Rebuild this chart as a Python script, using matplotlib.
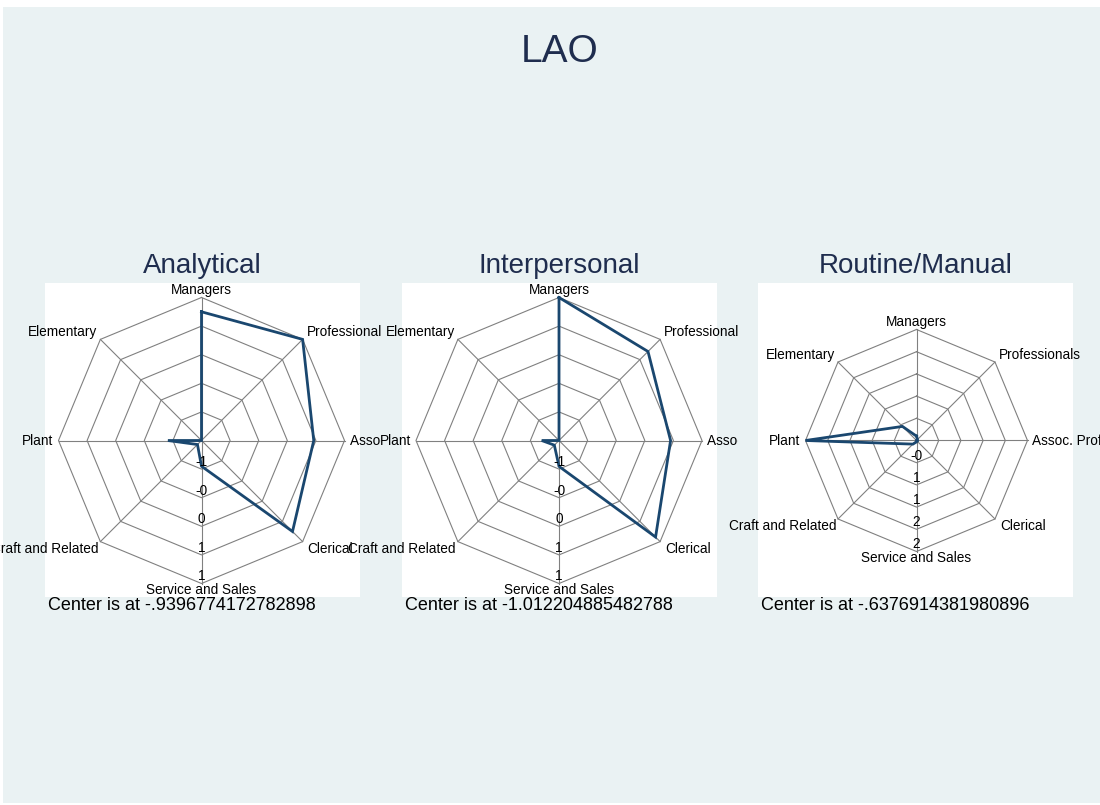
import numpy as np
import matplotlib
matplotlib.use("Agg")
import matplotlib.pyplot as plt
from matplotlib.transforms import offset_copy, Bbox, TransformedBbox
from matplotlib.patches import Rectangle

plt.rcParams['font.family'] = ['Liberation Sans', 'DejaVu Sans']

# ---------------- data ----------------
main_title = "LAO"
categories = ["Managers", "Professionals", "Assoc. Professionals", "Clerical",
              "Service and Sales", "Craft and Related", "Plant", "Elementary"]
panel_titles = ["Analytical", "Interpersonal", "Routine/Manual"]

analytical = [0.86, 1.06, 0.63, 0.86, -0.58, -0.86, -0.47, -0.9396774172782898]
interpersonal = [0.99, 0.75, 0.55, 0.90, -0.65, -0.92, -0.77, -1.012204885482788]
routine_manual = [-0.52, -0.60, -0.61, -0.6376914381980896, -0.60, -0.50, 2.36, -0.10]

ring_labels_analytical = ["-1", "-0", "0", "1", "1"]
ring_labels_interpersonal = ["-1", "-0", "0", "1", "1"]
ring_labels_routine = ["-0", "1", "1", "2", "2"]

center_labels = ["Center is at -.9396774172782898",
                 "Center is at -1.012204885482788",
                 "Center is at -.6376914381980896"]

# ---------------- layout (pixels) ----------------
W, H = 1100, 805
fig = plt.figure(figsize=(W / 100, H / 100), dpi=100, facecolor='white')
fig.add_artist(Rectangle((3 / W, 2 / H), (W - 3) / W, (803 - 7) / H,
                         transform=fig.transFigure, facecolor='#eaf2f3',
                         edgecolor='none', zorder=-10))

fig.text(560 / W, 1 - 62 / H, main_title, ha='center', va='baseline',
         fontsize=28, color='#1f2d4e')

panels = [
    dict(vals=analytical, rings=ring_labels_analytical, white=(45, 283, 315, 314),
         center=(201.5, 440.5), R=143, clipx=381),
    dict(vals=interpersonal, rings=ring_labels_interpersonal, white=(402, 283, 315, 314),
         center=(559, 440.5), R=143, clipx=738),
    dict(vals=routine_manual, rings=ring_labels_routine, white=(758, 283, 315, 314),
         center=(916.5, 440.5), R=111, clipx=1100),
]

n = len(categories)
theta = np.linspace(0, 2 * np.pi, n, endpoint=False)
label_specs = [('center', 'bottom', 0, 1), ('left', 'bottom', 4, 0),
               ('left', 'center', 5, 0), ('left', 'top', 5, 0),
               ('center', 'top', 0, 0), ('right', 'top', -2, 0),
               ('right', 'center', -5, 0), ('right', 'bottom', -3, 0)]

grid_color = '#808080'
line_color = '#1a476f'

for p, title, clab in zip(panels, panel_titles, center_labels):
    x0, y0, w, h = p['white']
    bax = fig.add_axes([x0 / W, 1 - (y0 + h) / H, w / W, h / H])
    bax.set_facecolor('white')
    bax.set_xticks([]); bax.set_yticks([])
    for s in bax.spines.values():
        s.set_visible(False)
    bax.set_title(title, fontsize=20, color='#1f2d4e', pad=7)
    bax.text(0, 0, clab, transform=offset_copy(bax.transAxes, fig=fig, x=3, y=0, units='dots'),
             ha='left', va='top', fontsize=13, color='black')

    cx, cy, R = p['center'][0], p['center'][1], p['R']
    ax = fig.add_axes([(cx - R) / W, 1 - (cy + R) / H, 2 * R / W, 2 * R / H],
                      projection='polar')
    ax.set_axis_off()
    ax.set_theta_zero_location('N')
    ax.set_theta_direction(-1)

    vals = np.array(p['vals'])
    vmin, vmax = vals.min(), vals.max()
    ring_vals = np.linspace(vmin, vmax, 6)[1:]

    # grid rings (octagons) and spokes
    th_closed = np.append(theta, theta[0])
    for rv in ring_vals:
        ax.plot(th_closed, np.full(n + 1, rv), color=grid_color, lw=0.8, clip_on=False, zorder=1)
    for t in theta:
        ax.plot([t, t], [vmin, vmax], color=grid_color, lw=0.8, clip_on=False, zorder=1)

    # data polygon
    ax.plot(th_closed, np.append(vals, vals[0]), color=line_color, lw=2.0,
            clip_on=False, zorder=3, solid_joinstyle='miter')

    ax.set_autoscale_on(False)
    ax.set_rlim(vmin, vmax)

    clipbox = TransformedBbox(Bbox([[0, 0], [p['clipx'] / W, 1]]), fig.transFigure)

    # category labels
    for t, lab, (ha, va, dx, dy) in zip(theta, categories, label_specs):
        txt = ax.text(t, vmax, lab, ha=ha, va=va, fontsize=9.8, color='black',
                      transform=offset_copy(ax.transData, fig=fig, x=dx, y=dy, units='dots'),
                      clip_on=True, zorder=5)
        txt.set_clip_path(None)
        txt.set_clip_box(clipbox)

    # ring value labels on the bottom spoke
    for rv, rl in zip(ring_vals, p['rings']):
        ax.text(np.pi, rv, rl, ha='center', va='bottom', fontsize=9.8, color='black',
                zorder=4)

fig.savefig('out.png', dpi=100, facecolor='white')
